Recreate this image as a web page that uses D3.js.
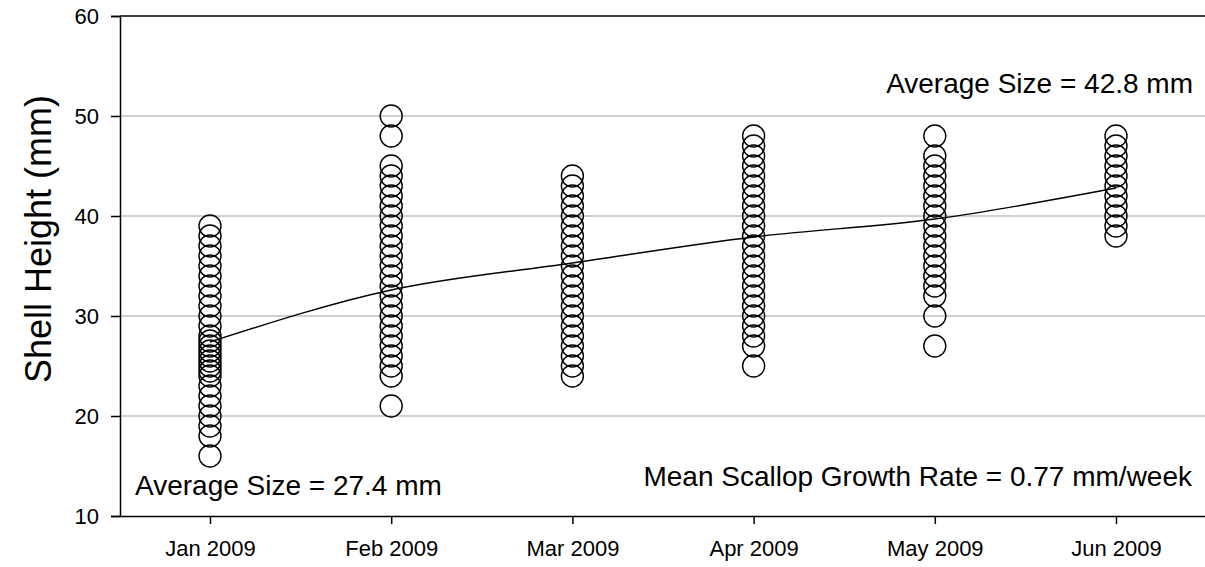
<!DOCTYPE html>
<html><head><meta charset="utf-8">
<script src="https://cdn.jsdelivr.net/npm/d3@7"></script>
<style>body{margin:0;background:#fff}svg{display:block;font-family:"Liberation Sans",Arial,sans-serif}</style>
</head><body><svg id="c" width="1205" height="567"></svg>
<script>
const months = ["Jan 2009","Feb 2009","Mar 2009","Apr 2009","May 2009","Jun 2009"];
const yTicks = [10,20,30,40,50,60];
const janSizes = [16,18,19,20,21,22,23,24,24.5,25,25.5,26,26.5,27,27.5,28,29,30,31,32,33,34,35,36,37,38,39];
const febSizes = [21,24,25,26,27,28,29,30,31,32,33,34,35,36,37,38,39,40,41,42,43,44,45,48,50];
const marSizes = [24,25,26,27,28,29,30,31,32,33,34,35,36,37,38,39,40,41,42,43,44];
const aprSizes = [25,27,28,29,30,31,32,33,34,35,36,37,38,39,40,41,42,43,44,45,46,47,48];
const maySizes = [27,30,32,33,34,35,36,37,38,39,40,41,42,43,44,45,46,48];
const junSizes = [38,39,40,41,42,43,44,45,46,47,48];
const meanSizes = [27.4,32.6,35.3,37.9,39.7,42.8];
const annotations = ["Average Size = 42.8 mm","Average Size = 27.4 mm","Mean Scallop Growth Rate = 0.77 mm/week"];

(function(){
const allSizes = [janSizes,febSizes,marSizes,aprSizes,maySizes,junSizes];
const svg = d3.select("#c");
const L = 120, R = 1205, T = 16, B = 516;
const x = d3.scalePoint().domain(months).range([210,1116]);
const y = d3.scaleLinear().domain([10,60]).range([B, T]);

svg.append("g").selectAll("line").data(yTicks.filter(d=>d>10 && d<60)).join("line")
  .attr("x1",L).attr("x2",R).attr("y1",d=>y(d)).attr("y2",d=>y(d))
  .attr("stroke","#c0c0c0").attr("stroke-width",1.5);
svg.append("line").attr("x1",L).attr("x2",R).attr("y1",T).attr("y2",T).attr("stroke","#000").attr("stroke-width",1.5);

const pts = [];
allSizes.forEach((arr,i)=>arr.forEach(v=>pts.push({m:months[i],v})));
svg.append("g").selectAll("circle").data(pts).join("circle")
  .attr("cx",d=>x(d.m)).attr("cy",d=>y(d.v)).attr("r",11)
  .attr("fill","none").attr("stroke","#000").attr("stroke-width",1.4);

const line = d3.line().x((d,i)=>x(months[i])).y(d=>y(d)).curve(d3.curveMonotoneX);
svg.append("path").datum(meanSizes).attr("d",line).attr("fill","none").attr("stroke","#000").attr("stroke-width",1.4);

const yAxis = d3.axisLeft(y).tickValues(yTicks).tickSize(9).tickPadding(12).tickFormat(d3.format("d"));
const gy = svg.append("g").attr("transform",`translate(${L},0)`).call(yAxis);
const xAxis = d3.axisBottom(x).tickSize(8).tickPadding(16);
const gx = svg.append("g").attr("transform",`translate(0,${B})`).call(xAxis);
gx.select(".domain").attr("d",`M${L},0.5H${R}`);
gy.select(".domain").attr("d",`M-9,${B}.5H0.5V${T}.5H-9`);
[gx,gy].forEach(g=>{
  g.selectAll("path,line").attr("stroke","#000").attr("stroke-width",1.5);
  g.selectAll("text").attr("font-size",22).attr("fill","#000").attr("font-family","Liberation Sans, Arial, sans-serif");
});

svg.append("text").attr("transform","translate(51,239) rotate(-90)").attr("text-anchor","middle")
  .attr("font-size",36).text("Shell Height (mm)");

svg.append("text").attr("x",1193).attr("y",93).attr("text-anchor","end").attr("font-size",28).text(annotations[0]);
svg.append("text").attr("x",135).attr("y",495).attr("font-size",28).text(annotations[1]);
svg.append("text").attr("x",1192).attr("y",486).attr("text-anchor","end").attr("font-size",28).text(annotations[2]);
})();
</script></body></html>
